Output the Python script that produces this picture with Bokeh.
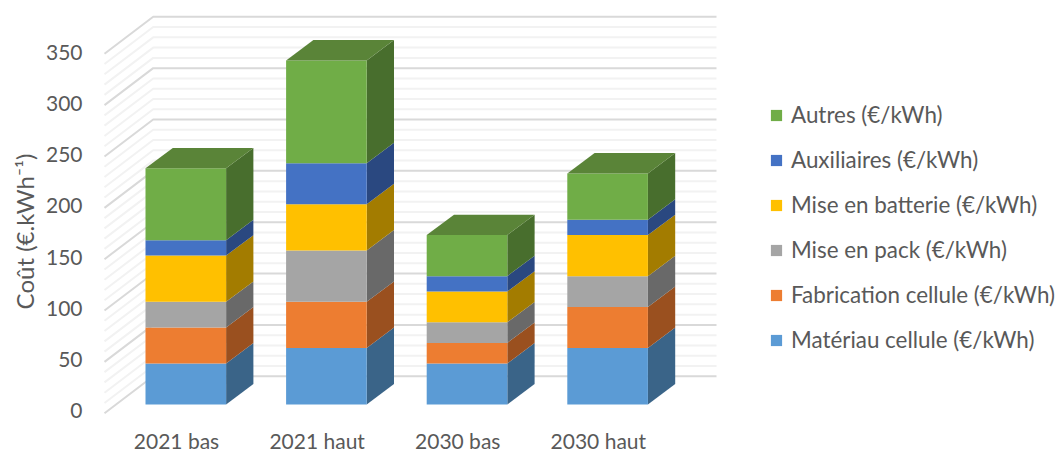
from bokeh.core.properties import value
from bokeh.embed import file_html
from bokeh.models import FixedTicker, Label, Legend, LegendItem, LinearAxis, Range1d
from bokeh.plotting import figure
from bokeh.resources import INLINE
import math

# Costs per scenario, in euros per kWh
categories = ["2021 bas", "2021 haut", "2030 bas", "2030 haut"]
materiau = [40, 55, 40, 55]
fabrication = [35, 45, 20, 40]
pack = [25, 50, 20, 30]
batterie = [45, 45, 30, 40]
auxiliaires = [15, 40, 15, 15]
autres = [70, 100, 40, 45]

series = [
    ("Matériau cellule (€/kWh)", materiau, "#5B9BD5", "#3A6488"),
    ("Fabrication cellule (€/kWh)", fabrication, "#ED7D31", "#9A501F"),
    ("Mise en pack (€/kWh)", pack, "#A5A5A5", "#696969"),
    ("Mise en batterie (€/kWh)", batterie, "#FFC000", "#A37C00"),
    ("Auxiliaires (€/kWh)", auxiliaires, "#4472C4", "#2A4880"),
    ("Autres (€/kWh)", autres, "#70AD47", "#486E2D"),
]
top_colour = "#5A8438"
y_ticks = [0, 50, 100, 150, 200, 250, 300, 350]
grid_step = 10
grid_max = 350

TEXT = "#595959"
FONT = "Lato"
WIDTH, HEIGHT = 1056, 452

# Screen scales of the pseudo-3D drawing
PX_PER_UNIT = 1.027
BASE_PX = 404.0
CAT_PX = 140.6
FIRST_CAT_PX = 185.3

x_start = -FIRST_CAT_PX / CAT_PX
x_end = (WIDTH - FIRST_CAT_PX) / CAT_PX
y_start = (BASE_PX - HEIGHT) / PX_PER_UNIT
y_end = BASE_PX / PX_PER_UNIT

bar_half = 40.3 / CAT_PX
depth_x = 27.3 / CAT_PX
depth_y = 20.4 / PX_PER_UNIT

p = figure(
    width=WIDTH, height=HEIGHT, output_backend="svg", toolbar_location=None,
    x_range=Range1d(x_start, x_end), y_range=Range1d(y_start, y_end),
    min_border_left=0, min_border_right=0, min_border_top=0,
    min_border_bottom=0, outline_line_color=None,
    background_fill_color="white", border_fill_color="white",
)
p.xaxis.visible = False
p.yaxis.visible = False
p.xgrid.visible = False
p.ygrid.visible = False

# Range for the value labels, which sit apart from the bars' own baseline
p.extra_y_ranges = {"labels": Range1d((410 - HEIGHT) / 1.0229, 410 / 1.0229)}

# Left and back walls: one line per grid step
wall_x0, wall_x1, wall_x2 = (104 - FIRST_CAT_PX) / CAT_PX, (152.7 - FIRST_CAT_PX) / CAT_PX, (716 - FIRST_CAT_PX) / CAT_PX
front_shift, back_shift = -8.5, 27.5
for level in range(0, grid_max + 1, grid_step):
    major = level % 50 == 0
    p.line(
        [wall_x0, wall_x1, wall_x2],
        [level + front_shift, level + back_shift, level + back_shift],
        line_color="#D9D9D9" if major else "#F2F2F2",
        line_width=2,
    )

# Stacked boxes: side faces, then front faces, then the lid of the top series
legend_items = []
bottoms = [0] * len(categories)
for name, values, front, side in series:
    tops = [b + v for b, v in zip(bottoms, values)]
    side_xs, side_ys = [], []
    for i, (b, t) in enumerate(zip(bottoms, tops)):
        r = i + bar_half
        side_xs.append([r, r + depth_x, r + depth_x, r])
        side_ys.append([b, b + depth_y, t + depth_y, t])
    p.patches(side_xs, side_ys, fill_color=side, line_color=None)
    quad = p.quad(
        left=[i - bar_half for i in range(len(categories))],
        right=[i + bar_half for i in range(len(categories))],
        bottom=bottoms, top=tops, fill_color=front, line_color=None,
    )
    legend_items.append(LegendItem(label=name, renderers=[quad]))
    bottoms = tops

lid_xs, lid_ys = [], []
for i, t in enumerate(bottoms):
    l, r = i - bar_half, i + bar_half
    lid_xs.append([l, r, r + depth_x, l + depth_x])
    lid_ys.append([t, t, t + depth_y, t + depth_y])
p.patches(lid_xs, lid_ys, fill_color=top_colour, line_color=None)

# Value axis, pinned inside the frame at the front edge of the left wall
y_axis = LinearAxis(
    y_range_name="labels", ticker=FixedTicker(ticks=y_ticks),
    axis_line_color=None, major_tick_line_color=None, minor_tick_line_color=None,
    major_tick_out=0, major_tick_in=0, minor_tick_out=0, minor_tick_in=0,
    major_label_text_font=FONT, major_label_text_font_size="21px",
    major_label_text_color=TEXT, major_label_standoff=22,
    fixed_location=wall_x0,
)
p.add_layout(y_axis, "left")

# Axis title
p.add_layout(Label(
    x=24, y=HEIGHT - 231, x_units="screen", y_units="screen",
    text="Coût (€.kWh⁻¹)", angle=math.pi / 2, text_align="center",
    text_baseline="middle", text_font=FONT, text_font_size="24px",
    text_color=TEXT,
))

# Category names under the boxes
label_shift = 0.066
label_level = (BASE_PX - 439.5) / PX_PER_UNIT
p.text(
    x=[i - label_shift for i in range(len(categories))],
    y=[label_level] * len(categories), text=categories,
    text_align="center", text_baseline="middle", text_font=value(FONT),
    text_font_size="21px", text_color=TEXT,
)

legend = Legend(
    items=legend_items[::-1], location=(769, 99), orientation="vertical",
    background_fill_alpha=0, border_line_color=None, padding=0, margin=0,
    glyph_width=14, glyph_height=14, label_height=20, spacing=18,
    label_standoff=8, label_text_font=FONT, label_text_font_size="22.4px",
    label_text_color=TEXT,
)
p.add_layout(legend, "center")

open("out.html", "w").write(file_html(p, INLINE))
